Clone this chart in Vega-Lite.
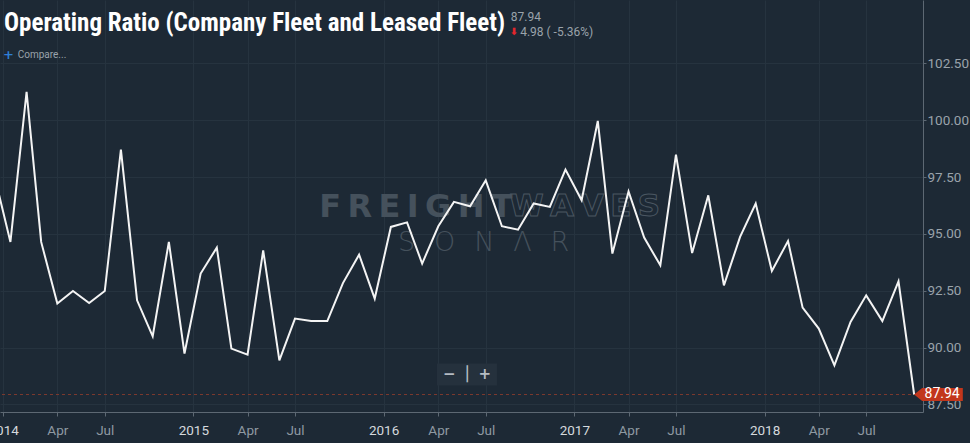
{
  "$schema": "https://vega.github.io/schema/vega-lite/v6.json",
  "width": 923,
  "height": 412,
  "autosize": "none",
  "padding": {"left": 0, "top": 0, "right": 47, "bottom": 31},
  "background": "#1d2935",
  "title": {
    "text": "Operating Ratio (Company Fleet and Leased Fleet)",
    "anchor": "start",
    "frame": "group",
    "orient": "top",
    "offset": -36,
    "dx": 4,
    "font": "Roboto Condensed, Liberation Sans Narrow, DejaVu Sans Condensed, Roboto, sans-serif",
    "fontSize": 25,
    "fontWeight": "bold",
    "color": "#ffffff"
  },
  "config": {
    "view": {"stroke": null},
    "font": "Roboto",
    "axis": {
      "labelFont": "Roboto",
      "labelFontSize": 13.5,
      "labelColor": "#9aa3ab",
      "domainColor": "#5d6873",
      "tickColor": "#5d6873",
      "gridColor": "#26333f",
      "gridWidth": 1,
      "title": null
    }
  },
  "data": {
    "values": [
      {"date": "2013-12-01", "value": 97.6},
      {"date": "2014-01-01", "value": 94.65},
      {"date": "2014-02-01", "value": 101.25},
      {"date": "2014-03-01", "value": 94.65},
      {"date": "2014-04-01", "value": 91.94},
      {"date": "2014-05-01", "value": 92.49},
      {"date": "2014-06-01", "value": 91.96},
      {"date": "2014-07-01", "value": 92.49},
      {"date": "2014-08-01", "value": 98.71},
      {"date": "2014-09-01", "value": 92.08},
      {"date": "2014-10-01", "value": 90.5},
      {"date": "2014-11-01", "value": 94.65},
      {"date": "2014-12-01", "value": 89.74},
      {"date": "2015-01-01", "value": 93.26},
      {"date": "2015-02-01", "value": 94.4},
      {"date": "2015-03-01", "value": 89.96},
      {"date": "2015-04-01", "value": 89.69},
      {"date": "2015-05-01", "value": 94.28},
      {"date": "2015-06-01", "value": 89.44},
      {"date": "2015-07-01", "value": 91.28},
      {"date": "2015-08-01", "value": 91.17},
      {"date": "2015-09-01", "value": 91.17},
      {"date": "2015-10-01", "value": 92.84},
      {"date": "2015-11-01", "value": 94.09},
      {"date": "2015-12-01", "value": 92.16},
      {"date": "2016-01-01", "value": 95.31},
      {"date": "2016-02-01", "value": 95.51},
      {"date": "2016-03-01", "value": 93.7},
      {"date": "2016-04-01", "value": 95.34},
      {"date": "2016-05-01", "value": 96.41},
      {"date": "2016-06-01", "value": 96.22},
      {"date": "2016-07-01", "value": 97.36},
      {"date": "2016-08-01", "value": 95.34},
      {"date": "2016-09-01", "value": 95.19},
      {"date": "2016-10-01", "value": 96.34},
      {"date": "2016-11-01", "value": 96.19},
      {"date": "2016-12-01", "value": 97.83},
      {"date": "2017-01-01", "value": 96.48},
      {"date": "2017-02-01", "value": 99.97},
      {"date": "2017-03-01", "value": 94.14},
      {"date": "2017-04-01", "value": 96.87},
      {"date": "2017-05-01", "value": 94.84},
      {"date": "2017-06-01", "value": 93.62},
      {"date": "2017-07-01", "value": 98.49},
      {"date": "2017-08-01", "value": 94.16},
      {"date": "2017-09-01", "value": 96.7},
      {"date": "2017-10-01", "value": 92.74},
      {"date": "2017-11-01", "value": 94.87},
      {"date": "2017-12-01", "value": 96.34},
      {"date": "2018-01-01", "value": 93.37},
      {"date": "2018-02-01", "value": 94.69},
      {"date": "2018-03-01", "value": 91.76},
      {"date": "2018-04-01", "value": 90.84},
      {"date": "2018-05-01", "value": 89.22},
      {"date": "2018-06-01", "value": 91.13},
      {"date": "2018-07-01", "value": 92.3},
      {"date": "2018-08-01", "value": 91.17},
      {"date": "2018-09-01", "value": 92.92},
      {"date": "2018-10-01", "value": 87.94}
    ]
  },
  "layer": [
    {
      "data": {"values": [{}]},
      "mark": {"type": "text", "text": "F\u2009R\u2009E\u2009I\u2009G\u2009H\u2009T", "font": "DejaVu Sans", "fontWeight": "bold", "fontSize": 32, "color": "#45515c", "align": "center", "baseline": "middle"},
      "encoding": {
        "x": {"datum": 1455753600000, "type": "temporal", "scale": {"type": "utc", "domain": [1386806400000, 1539820800000]}},
        "y": {"datum": 96.18, "type": "quantitative", "scale": {"domain": [87.17, 105.29], "nice": false, "zero": false}}
      }
    },
    {
      "data": {"values": [{}]},
      "mark": {"type": "text", "text": "W\u2009A\u2009V\u2009E\u2009S", "font": "DejaVu Sans", "fontWeight": "bold", "fontSize": 31, "fill": null, "stroke": "#4a5661", "strokeWidth": 1, "align": "center", "baseline": "middle"},
      "encoding": {
        "x": {"datum": 1483747200000, "type": "temporal", "scale": {"type": "utc", "domain": [1386806400000, 1539820800000]}},
        "y": {"datum": 96.18, "type": "quantitative", "scale": {"domain": [87.17, 105.29], "nice": false, "zero": false}}
      }
    },
    {
      "data": {"values": [{}]},
      "mark": {"type": "text", "text": "S\u2002\u2009O\u2002\u2009N\u2002\u2009Λ\u2002\u2009R", "font": "DejaVu Sans", "fontWeight": 200, "fontSize": 27, "color": "#45515c", "align": "center", "baseline": "middle"},
      "encoding": {
        "x": {"datum": 1466985600000, "type": "temporal", "scale": {"type": "utc", "domain": [1386806400000, 1539820800000]}},
        "y": {"datum": 94.6, "type": "quantitative", "scale": {"domain": [87.17, 105.29], "nice": false, "zero": false}}
      }
    },
    {
      "data": {"values": [{}]},
      "mark": {"type": "point", "shape": "M -1 -0.37 L 1 -0.37 L 1 0.37 L -1 0.37 Z", "size": 3600, "filled": true, "color": "#25313d", "opacity": 1},
      "encoding": {
        "x": {"datum": 1464220800000, "type": "temporal", "scale": {"type": "utc", "domain": [1386806400000, 1539820800000]}},
        "y": {"datum": 88.82, "type": "quantitative", "scale": {"domain": [87.17, 105.29], "nice": false, "zero": false}}
      }
    },
    {
      "data": {"values": [{}]},
      "mark": {"type": "text", "text": "−\u2002⏐\u2002+", "font": "DejaVu Sans", "fontWeight": "bold", "fontSize": 15, "color": "#b5bcc2", "align": "center", "baseline": "middle"},
      "encoding": {
        "x": {"datum": 1464220800000, "type": "temporal", "scale": {"type": "utc", "domain": [1386806400000, 1539820800000]}},
        "y": {"datum": 88.82, "type": "quantitative", "scale": {"domain": [87.17, 105.29], "nice": false, "zero": false}}
      }
    },
    {
      "encoding": {
        "x": {
          "field": "date",
          "type": "temporal",
          "scale": {"type": "utc", "domain": [1386806400000, 1539820800000]},
          "axis": {
            "orient": "bottom",
            "values": [
              {"year": 2013, "month": 12, "date": 18, "utc": true},
              {"year": 2014, "month": 4, "date": 1, "utc": true},
              {"year": 2014, "month": 7, "date": 1, "utc": true},
              {"year": 2014, "month": 12, "date": 18, "utc": true},
              {"year": 2015, "month": 4, "date": 1, "utc": true},
              {"year": 2015, "month": 7, "date": 1, "utc": true},
              {"year": 2015, "month": 12, "date": 18, "utc": true},
              {"year": 2016, "month": 4, "date": 1, "utc": true},
              {"year": 2016, "month": 7, "date": 1, "utc": true},
              {"year": 2016, "month": 12, "date": 18, "utc": true},
              {"year": 2017, "month": 4, "date": 1, "utc": true},
              {"year": 2017, "month": 7, "date": 1, "utc": true},
              {"year": 2017, "month": 12, "date": 18, "utc": true},
              {"year": 2018, "month": 4, "date": 1, "utc": true},
              {"year": 2018, "month": 7, "date": 1, "utc": true}
            ],
            "labelExpr": "utcmonth(datum.value) == 11 ? '' + (utcyear(datum.value) + 1) : utcFormat(datum.value, '%b')",
            "labelColor": {
              "condition": {"test": "utcmonth(datum.value) == 11", "value": "#d5d9dd"},
              "value": "#8f99a2"
            },
            "labelFlush": false,
            "labelOverlap": false,
            "labelBound": false,
            "tickSize": 4,
            "labelPadding": 7,
            "grid": true
          }
        },
        "y": {
          "field": "value",
          "type": "quantitative",
          "scale": {"domain": [87.17, 105.29], "nice": false, "zero": false},
          "axis": {
            "orient": "right",
            "values": [87.5, 90, 92.5, 95, 97.5, 100, 102.5],
            "format": ".2f",
            "tickSize": 3,
            "labelPadding": 1,
            "grid": true
          }
        }
      },
      "layer": [
        {
          "transform": [
            {"window": [{"op": "row_number", "as": "rn"}], "sort": [{"field": "date", "order": "descending"}]},
            {"filter": "datum.rn == 1"}
          ],
          "mark": {"type": "rule", "color": "#7d3a2f", "strokeWidth": 1, "strokeDash": [3, 3]},
          "encoding": {"x": null}
        },
        {
          "mark": {"type": "line", "color": "#f4f4f4", "strokeWidth": 2, "clip": true}
        },
        {
          "transform": [
            {"window": [{"op": "row_number", "as": "rn"}], "sort": [{"field": "date", "order": "descending"}]},
            {"filter": "datum.rn == 1"}
          ],
          "mark": {"type": "point", "shape": "M 0 0 L 0.33 -0.27 L 2 -0.27 L 2 0.27 L 0.33 0.27 Z", "size": 2372, "filled": true, "color": "#c2361c", "opacity": 1}
        },
        {
          "transform": [
            {"window": [{"op": "row_number", "as": "rn"}], "sort": [{"field": "date", "order": "descending"}]},
            {"filter": "datum.rn == 1"}
          ],
          "mark": {"type": "text", "dx": 28, "font": "Roboto", "fontSize": 14, "color": "#ffffff", "align": "center", "baseline": "middle"},
          "encoding": {"text": {"field": "value", "type": "quantitative", "format": ".2f"}}
        }
      ]
    },
    {
      "data": {"values": [{}]},
      "mark": {"type": "text", "text": "87.94", "font": "Roboto", "fontSize": 12, "color": "#9aa3ab", "align": "left", "baseline": "middle"},
      "encoding": {
        "x": {"datum": 1471478400000, "type": "temporal", "scale": {"type": "utc", "domain": [1386806400000, 1539820800000]}},
        "y": {"datum": 104.56, "type": "quantitative", "scale": {"domain": [87.17, 105.29], "nice": false, "zero": false}}
      }
    },
    {
      "data": {"values": [{}]},
      "mark": {"type": "text", "text": "⬇", "font": "DejaVu Sans", "fontWeight": "bold", "fontSize": 10, "color": "#e3262c", "align": "center", "baseline": "middle"},
      "encoding": {
        "x": {"datum": 1471996800000, "type": "temporal", "scale": {"type": "utc", "domain": [1386806400000, 1539820800000]}},
        "y": {"datum": 103.88, "type": "quantitative", "scale": {"domain": [87.17, 105.29], "nice": false, "zero": false}}
      }
    },
    {
      "data": {"values": [{}]},
      "mark": {"type": "text", "text": "4.98 ( -5.36%)", "font": "Roboto", "fontSize": 12, "color": "#9aa3ab", "align": "left", "baseline": "middle"},
      "encoding": {
        "x": {"datum": 1473033600000, "type": "temporal", "scale": {"type": "utc", "domain": [1386806400000, 1539820800000]}},
        "y": {"datum": 103.88, "type": "quantitative", "scale": {"domain": [87.17, 105.29], "nice": false, "zero": false}}
      }
    },
    {
      "data": {"values": [{}]},
      "mark": {"type": "text", "text": "+", "font": "DejaVu Sans", "fontWeight": "bold", "fontSize": 13, "color": "#2f7fd6", "align": "center", "baseline": "middle"},
      "encoding": {
        "x": {"datum": 1388188800000, "type": "temporal", "scale": {"type": "utc", "domain": [1386806400000, 1539820800000]}},
        "y": {"datum": 102.87, "type": "quantitative", "scale": {"domain": [87.17, 105.29], "nice": false, "zero": false}}
      }
    },
    {
      "data": {"values": [{}]},
      "mark": {"type": "text", "text": "Compare...", "font": "Roboto", "fontSize": 10, "color": "#9aa3ab", "align": "left", "baseline": "middle"},
      "encoding": {
        "x": {"datum": 1389744000000, "type": "temporal", "scale": {"type": "utc", "domain": [1386806400000, 1539820800000]}},
        "y": {"datum": 102.87, "type": "quantitative", "scale": {"domain": [87.17, 105.29], "nice": false, "zero": false}}
      }
    }
  ]
}
